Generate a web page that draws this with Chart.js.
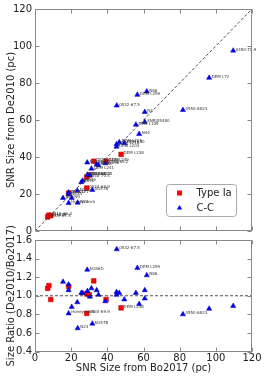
<!DOCTYPE html>
<html>
<head>
<meta charset="utf-8">
<script src="https://cdn.jsdelivr.net/npm/chart.js@4.4.0/dist/chart.umd.min.js"></script>
<style>
html,body{margin:0;padding:0;background:#fff;}
#wrap{position:relative;width:265px;height:377px;overflow:hidden;}
canvas{position:absolute;left:0;}
#top{top:0;}
#bottom{top:224px;}
</style>
</head>
<body>
<div id="wrap">
<canvas id="top" width="265" height="240"></canvas>
<canvas id="bottom" width="265" height="153"></canvas>
</div>
<script>
// Type Ia remnants: size from Bo2017 (x), size from De2010 (y), ratio De/Bo
const iaNames = ['0509-67.5','0519-69.0','N103B','DEM L71','0548-70.4','0534-70.5','0534-69.9','DEM L316A','DEM L249','DEM L238']
const iaBo = [7.0, 7.7, 8.7, 18.6, 28.6, 30.0, 28.6, 32.5, 39.3, 47.6]
const iaDe = [7.6, 8.6, 8.3, 20.5, 29.2, 30.3, 23.2, 37.7, 37.7, 41.4]
const iaRatio = [1.08, 1.11, 0.96, 1.10, 1.02, 1.01, 0.81, 1.16, 0.96, 0.87]

// core-collapse remnants
const ccNames = ['N49','N132D','N63A','N9','Honeycomb','N120','N23','N11L','N206','N186D',
  '0453-68.5','N158A','DEM L241','N157B','DEM L256','N59B','0528-69.2','0532-67.5','DEM L218','DEM L203',
  'DEM L205','DEM L50','DEM L299','DEM L109','N44','N86','N4','SNRJ05480','0550-6823','DEM L72','0450-70.9']
const ccBo = [15.5, 18.6, 18.6, 20.3, 18.6, 23.4, 23.6, 25.6, 26.4, 28.9,
  29.0, 30.4, 31.2, 31.7, 34.1, 35.1, 38.9, 45.2, 45.1, 45.1,
  46.6, 49.4, 56.6, 55.8, 57.6, 61.8, 60.7, 60.7, 81.8, 96.3, 109.6]
const ccDe = [17.8, 20.8, 19.7, 17.9, 15.1, 21.8, 15.3, 26.4, 27.2, 37.0,
  30.4, 30.1, 33.7, 22.2, 36.1, 35.5, 36.6, 67.8, 46.9, 45.6,
  48.0, 47.4, 73.6, 57.5, 52.4, 75.4, 64.3, 58.9, 65.4, 82.8, 97.5]
const ccRatio = [1.15, 1.12, 1.06, 0.88, 0.81, 0.93, 0.65, 1.03, 1.03, 1.28,
  1.05, 0.99, 1.08, 0.70, 1.06, 1.01, 0.94, 1.50, 1.04, 1.01,
  1.03, 0.96, 1.30, 1.03, 0.91, 1.22, 1.06, 0.97, 0.80, 0.86, 0.89]

// names that are also written in the ratio panel
const ratioTagged = ['0532-67.5','DEM L299','N86','N186D','Honeycomb','0534-69.9','N157B','N23','DEM L238','0550-6823']

const sizeRange = [0, 120]
const ratioRange = [0.4, 1.6]
const oneToOne = [[0, 0], [120, 120]]
const unity = [[0, 1], [120, 1]]

const pts = (xs, ys) => xs.map((x, i) => ({x: x, y: ys[i]}))
const tagsFor = names => names.map(n => ratioTagged.includes(n) ? n : '')

Chart.defaults.font.family = "'DejaVu Sans', sans-serif"
Chart.defaults.color = '#222'

// frame + inward ticks on all four sides
const framePlugin = {
  id: 'frame',
  afterDraw(chart) {
    const {ctx, chartArea: a, scales} = chart
    const l = Math.round(a.left) + 0.5, r = Math.round(a.right) - 0.5
    const t = Math.round(a.top) + 0.5, b = Math.round(a.bottom) - 0.5
    ctx.save()
    ctx.strokeStyle = '#888'
    ctx.lineWidth = 1
    ctx.beginPath()
    scales.x.ticks.forEach(tk => {
      const px = Math.round(scales.x.getPixelForValue(tk.value)) + 0.5
      ctx.moveTo(px, b); ctx.lineTo(px, b - 4)
      ctx.moveTo(px, t); ctx.lineTo(px, t + 4)
    })
    scales.y.ticks.forEach(tk => {
      const py = Math.round(scales.y.getPixelForValue(tk.value)) + 0.5
      ctx.moveTo(l, py); ctx.lineTo(l + 4, py)
      ctx.moveTo(r, py); ctx.lineTo(r - 4, py)
    })
    ctx.stroke()
    ctx.strokeRect(l, t, r - l, b - t)
    ctx.restore()
  }
}

// tiny name labels beside the markers
const tagPlugin = {
  id: 'tags',
  afterDatasetsDraw(chart) {
    const ctx = chart.ctx
    ctx.save()
    ctx.font = "4px 'DejaVu Sans'"
    ctx.fillStyle = '#333'
    ctx.textBaseline = 'middle'
    chart.data.datasets.forEach((ds, di) => {
      if (!ds.tags) return
      chart.getDatasetMeta(di).data.forEach((p, i) => {
        if (ds.tags[i]) ctx.fillText(ds.tags[i], p.x + 2.5, p.y - 1)
      })
    })
    ctx.restore()
  }
}

const legendPlugin = {
  id: 'boxLegend',
  afterDraw(chart) {
    const {ctx, chartArea: a} = chart
    const x = a.left + 131.5, y = a.top + 175.5, w = 70, h = 32
    ctx.save()
    ctx.fillStyle = '#fff'
    ctx.strokeStyle = '#aaa'
    ctx.lineWidth = 1
    ctx.beginPath()
    ctx.roundRect(x, y, w, h, 3)
    ctx.fill(); ctx.stroke()
    // red square
    ctx.fillStyle = '#ff0000'
    ctx.fillRect(x + 10.5, y + 6, 5, 5)
    // blue triangle
    ctx.fillStyle = '#0000ff'
    ctx.beginPath()
    ctx.moveTo(x + 13, y + 20.5)
    ctx.lineTo(x + 15.7, y + 25)
    ctx.lineTo(x + 10.3, y + 25)
    ctx.closePath()
    ctx.fill()
    ctx.fillStyle = '#222'
    ctx.font = "10px 'DejaVu Sans'"
    ctx.textBaseline = 'middle'
    ctx.fillText('Type Ia', x + 30, y + 8.5)
    ctx.fillText('C-C', x + 30, y + 23.5)
    ctx.restore()
  }
}

const iaStyle = {pointStyle: 'rect', pointRadius: 3.3, backgroundColor: '#ff0000', borderColor: '#b00000', borderWidth: 0.5}
const ccStyle = {pointStyle: 'triangle', pointRadius: 3, backgroundColor: '#0000ff', borderColor: '#0000a0', borderWidth: 0.5}
const dashStyle = {showLine: true, pointRadius: 0, borderColor: '#222', borderWidth: 0.8, borderDash: [3, 2]}

new Chart(document.getElementById('top'), {
  type: 'scatter',
  data: {
    datasets: [
      Object.assign({data: pts(oneToOne.map(p => p[0]), oneToOne.map(p => p[1]))}, dashStyle),
      Object.assign({label: 'C-C', data: pts(ccBo, ccDe), tags: ccNames}, ccStyle),
      Object.assign({label: 'Type Ia', data: pts(iaBo, iaDe), tags: iaNames}, iaStyle)
    ]
  },
  options: {
    responsive: false,
    animation: false,
    layout: {padding: {left: 0, right: 13, top: 7, bottom: 6.5}},
    plugins: {legend: {display: false}, tooltip: {enabled: false}},
    scales: {
      x: {
        min: sizeRange[0], max: sizeRange[1],
        ticks: {display: false, stepSize: 20},
        grid: {display: false}, border: {display: false},
        afterFit: s => { s.height = 0 }
      },
      y: {
        min: sizeRange[0], max: sizeRange[1],
        ticks: {stepSize: 20, padding: 3, font: {size: 10}, color: '#222'},
        grid: {display: false, drawTicks: false}, border: {display: false},
        title: {display: true, text: 'SNR Size from De2010 (pc)', font: {size: 10}, padding: {top: 5.5, bottom: 0}},
        afterFit: s => { s.width = 35 }
      }
    }
  },
  plugins: [framePlugin, tagPlugin, legendPlugin]
})

new Chart(document.getElementById('bottom'), {
  type: 'scatter',
  data: {
    datasets: [
      Object.assign({data: pts(unity.map(p => p[0]), unity.map(p => p[1]))}, dashStyle),
      Object.assign({label: 'C-C', data: pts(ccBo, ccRatio), tags: tagsFor(ccNames)}, ccStyle),
      Object.assign({label: 'Type Ia', data: pts(iaBo, iaRatio), tags: tagsFor(iaNames)}, iaStyle)
    ]
  },
  options: {
    responsive: false,
    animation: false,
    layout: {padding: {left: 0, right: 13, top: 16, bottom: 0}},
    plugins: {legend: {display: false}, tooltip: {enabled: false}},
    scales: {
      x: {
        min: sizeRange[0], max: sizeRange[1],
        ticks: {stepSize: 20, padding: 1, font: {size: 10}, color: '#222', maxRotation: 0},
        grid: {display: false, drawTicks: false}, border: {display: false},
        title: {display: true, text: 'SNR Size from Bo2017 (pc)', font: {size: 10}, padding: {top: 0, bottom: 3}},
        afterFit: s => { s.height = 25.5 }
      },
      y: {
        min: ratioRange[0], max: ratioRange[1],
        ticks: {stepSize: 0.2, padding: 3, font: {size: 10}, color: '#222', callback: v => v.toFixed(1)},
        grid: {display: false, drawTicks: false}, border: {display: false},
        title: {display: true, text: 'Size Ratio (De2010/Bo2017)', font: {size: 10}, padding: {top: 5.5, bottom: 0}},
        afterFit: s => { s.width = 35 }
      }
    }
  },
  plugins: [framePlugin, tagPlugin]
})
</script>
</body>
</html>
